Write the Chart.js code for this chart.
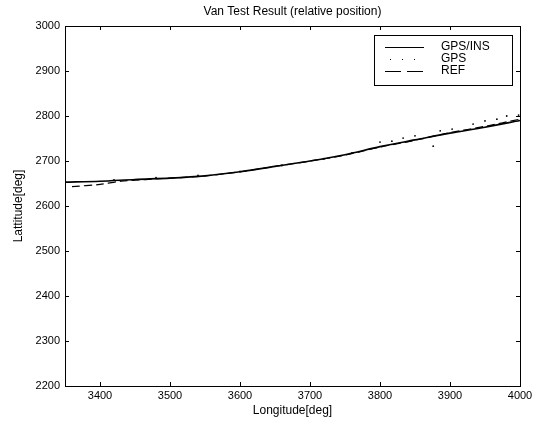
<!DOCTYPE html>
<html>
<head>
<meta charset="utf-8">
<script src="https://cdn.jsdelivr.net/npm/chart.js@4"></script>
<style>
  html, body { margin: 0; padding: 0; background: #fff; }
  #wrap { width: 540px; height: 421px; }
</style>
</head>
<body>
<div id="wrap"><canvas id="vanChart" width="540" height="421"></canvas></div>
<script>
// GPS/INS solution
var insLon = [3350, 3400, 3450, 3500, 3550, 3600, 3650, 3700, 3750, 3800, 3850, 3900, 3950, 4000];
var insLat = [2653, 2655, 2659, 2662, 2667, 2676, 2688, 2700, 2714, 2732, 2747, 2762, 2775, 2790];

// raw GPS fixes
var gpsLon = [3420, 3480, 3540, 3600, 3660, 3720, 3760, 3800, 3817, 3833, 3850, 3876, 3886, 3903, 3933, 3950, 3967, 3981, 3998];
var gpsLat = [2658, 2663, 2668, 2677, 2690, 2705, 2718, 2742, 2744, 2751, 2756, 2733, 2767, 2771, 2782, 2789, 2793, 2800, 2802];

// reference trajectory
var refLon = [3360, 3400, 3430, 3500, 3550, 3600, 3650, 3700, 3750, 3800, 3850, 3900, 3950, 4000];
var refLat = [2643, 2648, 2655, 2662, 2667, 2676, 2688, 2700, 2713, 2731, 2746, 2763, 2777, 2793];

var xTicks = [3400, 3500, 3600, 3700, 3800, 3900, 4000];
var yTicks = [2200, 2300, 2400, 2500, 2600, 2700, 2800, 2900, 3000];

function pts(xs, ys) {
    return xs.map(function (x, i) { return { x: x, y: ys[i] }; });
}

var FONT = 'Liberation Sans, Arial, sans-serif';

// matlab style frame, inward ticks, title and legend box
var matlabFrame = {
    id: 'matlabFrame',
    afterDraw: function (chart) {
        var c = chart.ctx, a = chart.chartArea;
        var xs = chart.scales.x, ys = chart.scales.y;
        c.save();
        c.strokeStyle = '#000';
        c.lineWidth = 1;
        c.strokeRect(a.left + 0.5, a.top + 0.5, a.right - a.left, a.bottom - a.top);
        c.beginPath();
        xTicks.forEach(function (v) {
            var px = Math.round(xs.getPixelForValue(v)) + 0.5;
            c.moveTo(px, a.bottom); c.lineTo(px, a.bottom - 4);
            c.moveTo(px, a.top); c.lineTo(px, a.top + 4);
        });
        yTicks.forEach(function (v) {
            var py = Math.round(ys.getPixelForValue(v)) + 0.5;
            c.moveTo(a.left, py); c.lineTo(a.left + 4, py);
            c.moveTo(a.right, py); c.lineTo(a.right - 4, py);
        });
        c.stroke();

        // title
        c.fillStyle = '#000';
        c.font = '12px ' + FONT;
        c.textAlign = 'center';
        c.textBaseline = 'middle';
        c.fillText('Van Test Result (relative position)', (a.left + a.right) / 2, 12);

        // legend
        var lx = 374, ly = 35, lw = 138, lh = 50;
        c.fillStyle = '#fff';
        c.fillRect(lx, ly, lw, lh);
        c.strokeRect(lx + 0.5, ly + 0.5, lw, lh);
        var rows = [
            { label: 'GPS/INS', dash: [], dots: false },
            { label: 'GPS', dash: [], dots: true },
            { label: 'REF', dash: [16, 6], dots: false }
        ];
        c.font = '12px ' + FONT;
        c.textAlign = 'left';
        rows.forEach(function (r, i) {
            var y = ly + 12 + i * 12;
            if (r.dots) {
                c.fillStyle = '#000';
                [390, 402, 414].forEach(function (dx) { c.fillRect(dx, y, 1, 1); });
            } else {
                c.setLineDash(r.dash);
                c.beginPath();
                c.moveTo(385, y + 0.5); c.lineTo(424, y + 0.5);
                c.stroke();
                c.setLineDash([]);
            }
            c.fillStyle = '#000';
            c.fillText(r.label, 441, y);
        });
        c.restore();
    }
};

function plain(v) { return String(v); }

document.addEventListener('DOMContentLoaded', function () {
    var ctx = document.getElementById('vanChart').getContext('2d');
    var vanChart = new Chart(ctx, {
        type: 'scatter',
        data: {
            datasets: [{
                label: 'GPS/INS',
                data: pts(insLon, insLat),
                showLine: true,
                borderColor: '#000',
                borderWidth: 1.6,
                pointRadius: 0,
                tension: 0.3
            }, {
                label: 'GPS',
                data: pts(gpsLon, gpsLat),
                showLine: false,
                backgroundColor: '#000',
                borderColor: '#000',
                pointRadius: 0.9,
                borderWidth: 0
            }, {
                label: 'REF',
                data: pts(refLon, refLat),
                showLine: true,
                borderColor: '#000',
                borderWidth: 1.2,
                borderDash: [8, 4],
                pointRadius: 0,
                tension: 0.3
            }]
        },
        options: {
            responsive: false,
            animation: false,
            layout: { padding: { top: 26, right: 20, left: 0, bottom: 0 } },
            plugins: {
                legend: { display: false },
                title: { display: false },
                tooltip: { enabled: false }
            },
            scales: {
                x: {
                    type: 'linear',
                    min: 3350,
                    max: 4000,
                    afterBuildTicks: function (s) { s.ticks = xTicks.map(function (v) { return { value: v }; }); },
                    afterFit: function (s) { s.height = 35; },
                    grid: { display: false, drawTicks: false },
                    border: { display: false },
                    ticks: { color: '#000', font: { family: FONT, size: 11 }, padding: 3, maxRotation: 0, callback: plain },
                    title: { display: true, text: 'Longitude[deg]', color: '#000', font: { family: FONT, size: 12 }, padding: { top: 0, bottom: 3 } }
                },
                y: {
                    type: 'linear',
                    min: 2200,
                    max: 3000,
                    afterBuildTicks: function (s) { s.ticks = yTicks.map(function (v) { return { value: v }; }); },
                    afterFit: function (s) { s.width = 65; },
                    grid: { display: false, drawTicks: false },
                    border: { display: false },
                    ticks: { color: '#000', font: { family: FONT, size: 11 }, padding: 5, callback: plain },
                    title: { display: true, text: 'Lattitude[deg]', color: '#000', font: { family: FONT, size: 12 }, padding: { top: 11, bottom: 0 } }
                }
            }
        },
        plugins: [matlabFrame]
    });
});
</script>
</body>
</html>
